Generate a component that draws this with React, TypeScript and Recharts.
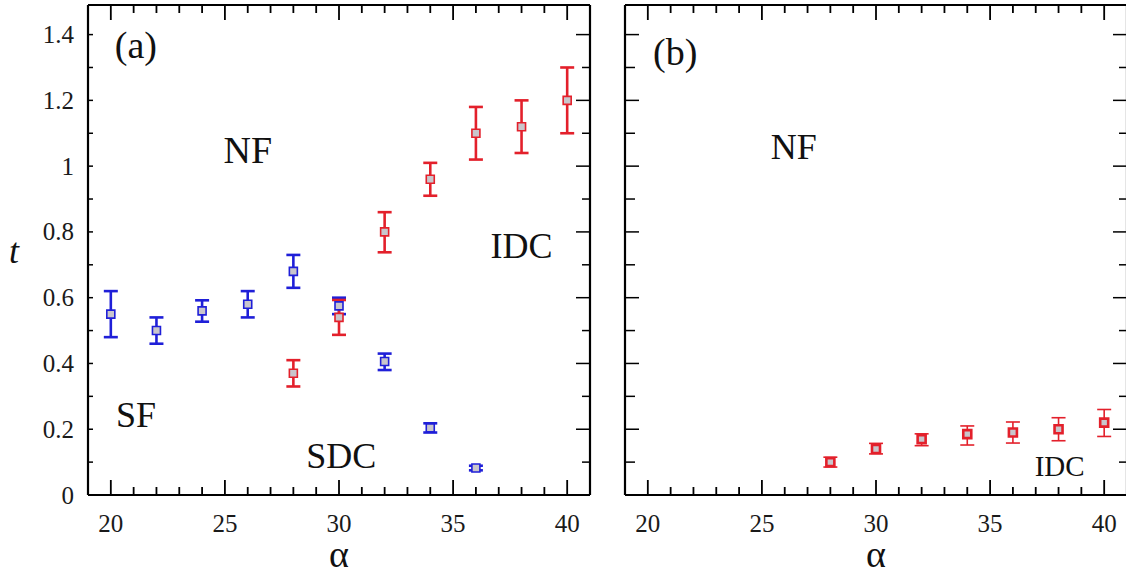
import React from "react";
import {
  ScatterChart,
  Scatter,
  XAxis,
  YAxis,
  ZAxis,
  ErrorBar,
  ReferenceDot,
  Label,
} from "recharts";

// alpha values
const alphaBlue = [20, 22, 24, 26, 28, 30, 32, 34, 36];
const alphaRed = [28, 30, 32, 34, 36, 38, 40];

// panel (a), blue: SF / SDC boundary
const tBlue = [0.55, 0.5, 0.56, 0.58, 0.68, 0.575, 0.406, 0.204, 0.082];
const tBlueLo = [0.48, 0.46, 0.527, 0.54, 0.63, 0.55, 0.38, 0.19, 0.075];
const tBlueHi = [0.62, 0.54, 0.592, 0.62, 0.73, 0.6, 0.43, 0.218, 0.089];

// panel (a), red: IDC boundary
const tRedA = [0.37, 0.54, 0.8, 0.96, 1.1, 1.12, 1.2];
const tRedALo = [0.33, 0.487, 0.738, 0.91, 1.02, 1.04, 1.1];
const tRedAHi = [0.41, 0.593, 0.86, 1.01, 1.18, 1.2, 1.3];

// panel (b), red
const tRedB = [0.1, 0.14, 0.17, 0.185, 0.19, 0.2, 0.22];
const tRedBLo = [0.085, 0.125, 0.15, 0.152, 0.158, 0.165, 0.178];
const tRedBHi = [0.115, 0.157, 0.186, 0.21, 0.222, 0.235, 0.26];

// ticks
const xMajor = [20, 25, 30, 35, 40];
const xAll = [20, 21, 22, 23, 24, 25, 26, 27, 28, 29, 30, 31, 32, 33, 34, 35, 36, 37, 38, 39, 40];
const yMajor = [0, 0.2, 0.4, 0.6, 0.8, 1, 1.2, 1.4];
const yAll = [0, 0.1, 0.2, 0.3, 0.4, 0.5, 0.6, 0.7, 0.8, 0.9, 1, 1.1, 1.2, 1.3, 1.4];

const X_DOMAIN = [19, 41];
const Y_DOMAIN = [0, 1.49];

const BLUE = "#1f1fd8";
const RED = "#e3202b";
const FONT = "'Liberation Serif', 'Times New Roman', serif";
const W = 600;
const H = 575;
const margin = { top: 5, right: 10, bottom: 79, left: 87 };
const LABEL_GAP_X = 37;
const LABEL_GAP_Y = 14;

function toPoints(xs: number[], ys: number[], lo: number[], hi: number[]) {
  return xs.map((a, i) => ({ a, t: ys[i], err: [ys[i] - lo[i], hi[i] - ys[i]] }));
}

// anchor points of the x tick marks on the bottom and top frame
const xTicksBottom = xAll.map((a) => ({ a, t: Y_DOMAIN[0] }));
const xTicksTop = xAll.map((a) => ({ a, t: Y_DOMAIN[1] }));

// inward tick mark (thin filled bar) at a scatter point on the frame
function tickMark(dir: number) {
  return (props: any) => {
    const cx = Number(props.cx);
    const cy = Number(props.cy);
    const len = xMajor.includes(props.payload.a) ? 15 : 8;
    const top = dir < 0 ? cy - len : cy;
    return <rect x={cx - 0.9} y={top} width={1.8} height={len} fill="#000" stroke="none" />;
  };
}

type Note = { text: string; a: number; t: number; size: number };

const notesA: Note[] = [
  { text: "(a)", a: 21.1, t: 1.37, size: 38 },
  { text: "NF", a: 26.0, t: 1.05, size: 38 },
  { text: "IDC", a: 38.0, t: 0.76, size: 36 },
  { text: "SF", a: 21.1, t: 0.245, size: 36 },
  { text: "SDC", a: 30.1, t: 0.12, size: 36 },
];
const notesB: Note[] = [
  { text: "(b)", a: 21.2, t: 1.35, size: 38 },
  { text: "NF", a: 26.4, t: 1.06, size: 36 },
  { text: "IDC", a: 38.05, t: 0.09, size: 29 },
];

type Series = {
  data: { a: number; t: number; err: number[] }[];
  color: string;
  barWidth: number;
  markWidth: number;
};

type Side = "bottom" | "left" | "right";

// y ticks: inward mark plus optional label; x axis: label only
function makeTick(side: Side, majors: number[], majorLen: number, minorLen: number, labels: boolean) {
  return (props: any) => {
    const x = Number(props.x);
    const y = Number(props.y);
    const v = props.payload.value;
    const major = majors.includes(v);
    const len = major ? majorLen : minorLen;
    if (side === "bottom") {
      if (!major) return <g />;
      return (
        <text x={x} y={y} textAnchor="middle" fontSize={25} fontFamily={FONT} fill="#1a1a1a">
          {String(v)}
        </text>
      );
    }
    if (side === "left") {
      const ax = labels ? x + LABEL_GAP_Y : x;
      return (
        <g>
          <path d={`M${ax},${y}H${ax + len}`} stroke="#000" strokeWidth={1.5} fill="none" />
          {labels && major && (
            <text x={x} y={y + 8.5} textAnchor="end" fontSize={25} fontFamily={FONT} fill="#1a1a1a">
              {String(v)}
            </text>
          )}
        </g>
      );
    }
    return <path d={`M${x},${y}H${x - len}`} stroke="#000" strokeWidth={1.5} fill="none" />;
  };
}

const frameStroke = { stroke: "#000", strokeWidth: 2.2 };

function Panel({
  series,
  notes,
  showYLabels,
}: {
  series: Series[];
  notes: Note[];
  showYLabels: boolean;
}) {
  const xCommon = {
    type: "number" as const,
    domain: X_DOMAIN,
    allowDataOverflow: true,
    stroke: "#000",
    ticks: xAll,
    interval: 0 as const,
    tickSize: 0,
    tickLine: false,
    axisLine: frameStroke,
  };
  const yCommon = {
    type: "number" as const,
    domain: Y_DOMAIN,
    allowDataOverflow: true,
    stroke: "#000",
    ticks: yAll,
    interval: 0 as const,
    tickSize: 0,
    tickLine: false,
    axisLine: frameStroke,
  };
  return (
    <ScatterChart width={W} height={H} margin={margin} style={{ fontFamily: FONT }}>
      <ZAxis range={[130, 130]} />
      <XAxis
        {...xCommon}
        xAxisId="xb"
        dataKey="a"
        orientation="bottom"
        height={1}
        tickMargin={LABEL_GAP_X}
        tick={makeTick("bottom", xMajor, 15, 8, true)}
      >
        <Label value="α" position="bottom" offset={44} fontSize={38} fontFamily={FONT} fill="#111" />
      </XAxis>
      <XAxis {...xCommon} xAxisId="xt" orientation="top" mirror height={1} tick={false} />
      <YAxis
        {...yCommon}
        yAxisId="yl"
        dataKey="t"
        orientation="left"
        width={1}
        tickMargin={showYLabels ? LABEL_GAP_Y : 0}
        tick={makeTick("left", yMajor, showYLabels ? 5 : 14, showYLabels ? 5 : 10, showYLabels)}
      >
        {showYLabels && (
          <Label
            value="t"
            position="left"
            offset={68}
            fontSize={36}
            fontStyle="italic"
            fontFamily={FONT}
            fill="#111"
          />
        )}
      </YAxis>
      <YAxis
        {...yCommon}
        yAxisId="yr"
        orientation="right"
        mirror
        width={1}
        tickMargin={0}
        tick={makeTick("right", yMajor, 14, 8, false)}
      />
      <Scatter
        data={xTicksBottom}
        xAxisId="xb"
        yAxisId="yl"
        shape={tickMark(-1)}
        isAnimationActive={false}
      />
      <Scatter
        data={xTicksTop}
        xAxisId="xb"
        yAxisId="yl"
        shape={tickMark(1)}
        isAnimationActive={false}
      />
      {series.map((s, i) => (
        <Scatter
          key={i}
          data={s.data}
          xAxisId="xb"
          yAxisId="yl"
          shape="square"
          fill="#c9c6cc"
          stroke={s.color}
          strokeWidth={s.markWidth}
          isAnimationActive={false}
        >
          <ErrorBar
            dataKey="err"
            direction="y"
            width={7}
            stroke={s.color}
            strokeWidth={s.barWidth}
            isAnimationActive={false}
          />
        </Scatter>
      ))}
      {notes.map((n) => (
        <ReferenceDot
          key={n.text}
          xAxisId="xb"
          yAxisId="yl"
          x={n.a}
          y={n.t}
          r={1}
          fill="none"
          stroke="none"
          label={{
            value: n.text,
            position: "center",
            fontSize: n.size,
            fill: "#111",
            fontFamily: FONT,
          }}
        />
      ))}
    </ScatterChart>
  );
}

export default function App() {
  const seriesA: Series[] = [
    { data: toPoints(alphaBlue, tBlue, tBlueLo, tBlueHi), color: BLUE, barWidth: 2.6, markWidth: 1.6 },
    { data: toPoints(alphaRed, tRedA, tRedALo, tRedAHi), color: RED, barWidth: 2.6, markWidth: 1.6 },
  ];
  const seriesB: Series[] = [
    { data: toPoints(alphaRed, tRedB, tRedBLo, tRedBHi), color: RED, barWidth: 1.6, markWidth: 2.6 },
  ];
  return (
    <div
      style={{
        position: "fixed",
        left: 0,
        top: 0,
        width: 1126,
        height: 575,
        overflow: "hidden",
        background: "#fff",
      }}
    >
      <div style={{ position: "absolute", left: 0, top: 0 }}>
        <Panel series={seriesA} notes={notesA} showYLabels />
      </div>
      <div style={{ position: "absolute", left: 537, top: 0 }}>
        <Panel series={seriesB} notes={notesB} showYLabels={false} />
      </div>
    </div>
  );
}
